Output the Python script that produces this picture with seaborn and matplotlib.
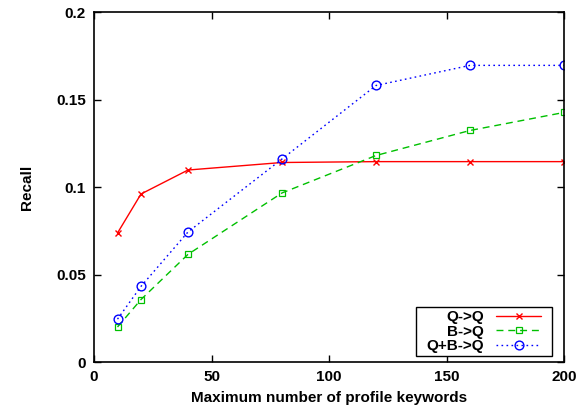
import matplotlib
matplotlib.use("Agg")
import matplotlib.pyplot as plt
import matplotlib.patches as mpatches
import seaborn as sns
import pandas as pd

keywords = [10, 20, 40, 80, 120, 160, 200]
recall_qq = [0.0737, 0.0960, 0.1097, 0.1140, 0.1145, 0.1145, 0.1145]
recall_bq = [0.0200, 0.0357, 0.0615, 0.0966, 0.1180, 0.1323, 0.1426]
recall_qbq = [0.0245, 0.0432, 0.0743, 0.1160, 0.1580, 0.1695, 0.1695]
series_names = ["Q->Q", "B->Q", "Q+B->Q"]
x_ticks = [0, 50, 100, 150, 200]
y_ticks = [0, 0.05, 0.1, 0.15, 0.2]
y_tick_labels = ["0", "0.05", "0.1", "0.15", "0.2"]

sns.set_theme(style="ticks")
plt.rcParams['font.family'] = ['Liberation Sans', 'DejaVu Sans']
plt.rcParams['font.weight'] = 'bold'
plt.rcParams['text.color'] = 'black'
plt.rcParams['axes.labelcolor'] = 'black'
plt.rcParams['xtick.color'] = 'black'
plt.rcParams['ytick.color'] = 'black'

FS = 11
fig = plt.figure(figsize=(5.84, 4.15), dpi=100)
ax = fig.add_axes([94/584, 1-362/415, (564-94)/584, (362-12)/415])

styles = [
    dict(color="#ff0000", marker="x", linestyle="-", markersize=4.5, mew=1.0),
    dict(color="#00c000", marker="s", linestyle=(0, (5, 3.5)), markersize=4.8, mfc="none", mew=0.9),
    dict(color="#0000ff", marker="o", linestyle=(0, (1.2, 2.4)), markersize=6.3, mfc="none", mew=1.0),
]
for name, vals, st in zip(series_names, [recall_qq, recall_bq, recall_qbq], styles):
    df = pd.DataFrame({"x": keywords, "y": vals})
    sns.lineplot(data=df, x="x", y="y", ax=ax, label=name, lw=1.0,
                 color=st["color"], marker=st["marker"], linestyle=st["linestyle"],
                 markersize=st["markersize"], markeredgecolor=st["color"],
                 markerfacecolor=st.get("mfc", st["color"]), markeredgewidth=st["mew"])

ax.set_xlim(0, 200)
ax.set_ylim(0, 0.2)
ax.set_xticks(x_ticks)
ax.set_xticklabels([str(v) for v in x_ticks], fontsize=FS, fontweight='bold', color='black')
ax.set_yticks(y_ticks)
ax.set_yticklabels(y_tick_labels, fontsize=FS, fontweight='bold', color='black')
ax.tick_params(direction='in', length=5, width=1, top=True, right=True, color='black', pad=6)
for sp in ax.spines.values():
    sp.set_color('black')
    sp.set_linewidth(1.2)
ax.set_xlabel("Maximum number of profile keywords", fontsize=FS, fontweight='bold', labelpad=5, color='black')
ax.set_ylabel("Recall", fontsize=FS, fontweight='bold', labelpad=16, color='black')

leg = ax.legend(loc="lower right", bbox_to_anchor=((543-94)/470, 7/350), borderaxespad=0,
                markerfirst=False, numpoints=1, frameon=False,
                prop={'size': FS, 'weight': 'bold'}, handlelength=3.0,
                borderpad=0.1, labelspacing=0.05, handletextpad=0.75)
leg._legend_box.align = "right"
for t in leg.get_texts():
    t.set_color('black')

fig.canvas.draw()
bb = leg.get_window_extent().transformed(fig.transFigure.inverted())
padx = 9 / 584
pady = 1 / 415
rect = mpatches.Rectangle((bb.x0 - padx, bb.y0 - pady), bb.width + 2 * padx, bb.height + 2 * pady,
                          transform=fig.transFigure, facecolor='white', edgecolor='black',
                          linewidth=1.0, zorder=4, clip_on=False)
ax.add_patch(rect)
leg.set_zorder(5)
fig.savefig("out.png", dpi=100)
